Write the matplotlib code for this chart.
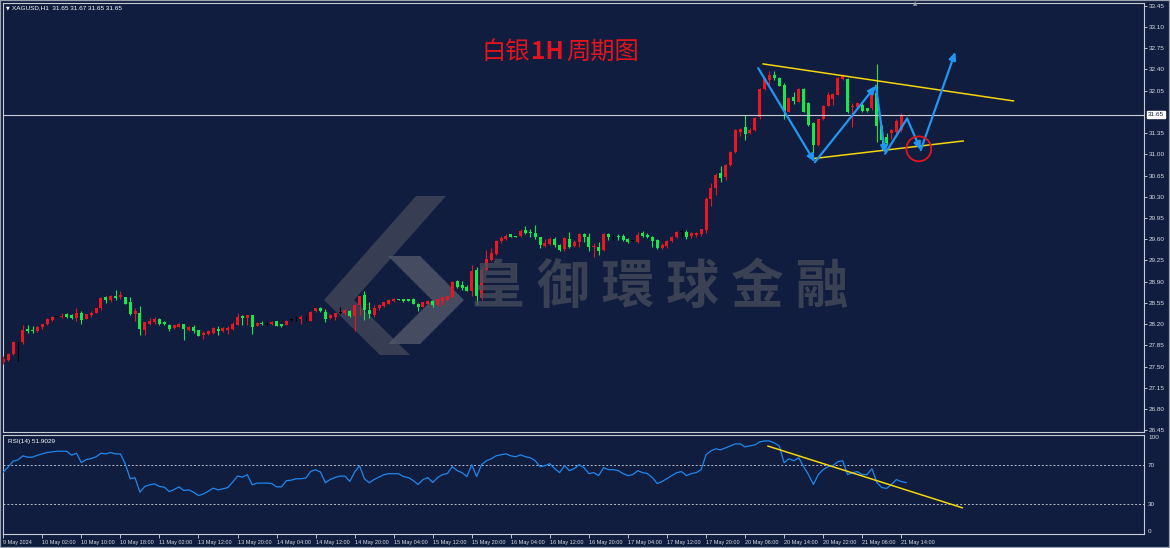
import matplotlib
matplotlib.use('Agg')
import matplotlib.pyplot as plt
import numpy as np
from matplotlib.patches import Ellipse, Polygon, Rectangle
from matplotlib.offsetbox import TextArea, HPacker, AnnotationBbox

# ---------------- data (H1 candles, index 0 = 9 May 2024 18:00) ----------------
opens = [27.57,27.61,27.71,27.90,27.90,28.12,28.11,28.08,28.16,28.21,
         28.27,28.32,28.31,28.36,28.35,28.30,28.38,28.29,28.35,28.38,
         28.46,28.64,28.60,28.67,28.64,28.65,28.57,28.37,28.38,28.10,
         28.21,28.23,28.29,28.24,28.18,28.13,28.16,28.20,28.10,28.16,
         28.10,28.02,28.04,28.06,28.12,28.09,28.10,28.12,28.19,28.34,
         28.30,28.35,28.17,28.22,28.21,28.20,28.25,28.20,28.19,28.27,
         28.28,28.28,28.28,28.26,28.41,28.46,28.40,28.30,28.32,28.39,
         28.38,28.41,28.34,28.51,28.68,28.43,28.35,28.46,28.50,28.54,
         28.59,28.615,28.62,28.61,28.61,28.54,28.49,28.54,28.58,28.52,
         28.58,28.60,28.65,28.91,28.84,28.82,28.75,29.09,28.63,29.09,
         29.26,29.36,29.57,29.60,29.68,29.655,29.66,29.75,29.71,29.71,
         29.63,29.49,29.52,29.60,29.51,29.44,29.60,29.49,29.56,29.69,
         29.64,29.47,29.47,29.42,29.68,29.63,29.66,29.66,29.60,29.57,
         29.555,29.70,29.67,29.64,29.59,29.46,29.49,29.57,29.63,29.72,
         29.72,29.66,29.67,29.68,29.75,30.26,30.44,30.69,30.62,30.82,
         31.04,31.36,31.45,31.35,31.40,31.61,32.08,32.23,32.31,32.25,
         32.15,31.70,31.95,31.87,32.07,31.84,31.51,31.15,31.58,31.80,
         31.92,31.98,32.24,32.24,31.775,31.775,31.81,31.76,31.76,32.01,
         31.47,31.29,31.35,31.36,31.40,31.65]
highs = [27.68,27.73,27.92,27.92,28.19,28.19,28.17,28.17,28.21,28.30,
         28.33,28.34,28.38,28.39,28.36,28.47,28.41,28.37,28.42,28.47,
         28.64,28.66,28.68,28.76,28.75,28.65,28.64,28.47,28.50,28.24,
         28.30,28.31,28.30,28.26,28.20,28.19,28.22,28.21,28.17,28.18,
         28.11,28.08,28.10,28.15,28.17,28.15,28.17,28.23,28.38,28.35,
         28.35,28.35,28.24,28.25,28.25,28.25,28.25,28.20,28.27,28.30,
         28.33,28.35,28.35,28.41,28.47,28.48,28.45,28.36,28.39,28.48,
         28.45,28.43,28.53,28.67,28.74,28.56,28.52,28.53,28.57,28.61,
         28.63,28.62,28.62,28.62,28.63,28.55,28.57,28.60,28.60,28.62,
         28.65,28.67,28.91,28.93,28.91,28.85,29.18,29.15,29.14,29.42,
         29.45,29.58,29.66,29.69,29.69,29.66,29.775,29.81,29.77,29.84,
         29.64,29.61,29.63,29.63,29.52,29.63,29.72,29.59,29.71,29.71,
         29.70,29.54,29.56,29.71,29.71,29.68,29.68,29.68,29.615,29.577,
         29.72,29.74,29.71,29.65,29.60,29.53,29.59,29.65,29.73,29.78,
         29.75,29.72,29.72,29.775,30.29,30.53,30.70,30.80,30.84,31.06,
         31.42,31.44,31.65,31.43,31.62,32.10,32.26,32.38,32.38,32.28,
         32.17,31.95,32.03,32.09,32.09,31.87,31.54,31.59,31.81,32.03,
         32.01,32.28,32.32,32.25,31.84,31.87,31.84,31.77,32.02,32.49,
         31.48,31.35,31.42,31.59,31.68,31.67]
lows = [27.55,27.60,27.69,27.60,27.88,28.05,28.06,28.07,28.12,28.18,
        28.26,28.31,28.30,28.30,28.29,28.26,28.21,28.28,28.31,28.38,
        28.44,28.55,28.57,28.60,28.62,28.54,28.35,28.26,28.02,28.02,
        28.18,28.21,28.19,28.19,28.09,28.12,28.15,27.94,28.08,28.05,
        28.00,27.96,28.02,28.04,28.02,28.07,28.04,28.10,28.18,28.18,
        28.18,28.04,28.17,28.19,28.19,28.19,28.17,28.16,28.18,28.25,
        28.25,28.20,28.26,28.26,28.40,28.40,28.23,28.29,28.27,28.37,
        28.35,28.32,28.09,28.35,28.27,28.30,28.31,28.43,28.48,28.53,
        28.56,28.60,28.57,28.58,28.53,28.42,28.48,28.52,28.49,28.50,
        28.52,28.59,28.64,28.80,28.77,28.74,28.67,28.51,28.60,29.07,
        29.24,29.34,29.54,29.59,29.64,29.64,29.64,29.69,29.64,29.60,
        29.46,29.48,29.51,29.48,29.41,29.41,29.46,29.47,29.48,29.56,
        29.40,29.31,29.34,29.41,29.59,29.59,29.59,29.57,29.53,29.56,
        29.54,29.64,29.615,29.48,29.44,29.445,29.46,29.55,29.615,29.64,
        29.60,29.615,29.63,29.66,29.70,30.14,30.33,30.55,30.58,30.80,
        31.02,31.30,31.24,31.33,31.38,31.58,32.06,32.13,32.23,32.12,
        31.59,31.69,31.83,31.86,31.69,31.47,31.02,31.13,31.57,31.79,
        31.81,31.97,32.23,31.68,31.45,31.76,31.70,31.69,31.73,31.20,
        31.07,31.15,31.26,31.34,31.37,31.65]
closes = [27.63,27.71,27.91,27.90,28.10,28.09,28.09,28.16,28.20,28.28,
          28.32,28.32,28.34,28.32,28.30,28.38,28.27,28.36,28.39,28.46,
          28.63,28.60,28.66,28.63,28.68,28.54,28.36,28.41,28.12,28.23,
          28.26,28.29,28.21,28.21,28.12,28.18,28.21,28.12,28.15,28.08,
          28.01,28.05,28.09,28.13,28.08,28.13,28.14,28.21,28.32,28.30,
          28.35,28.16,28.22,28.20,28.21,28.24,28.17,28.17,28.26,28.27,
          28.28,28.31,28.28,28.40,28.46,28.41,28.29,28.35,28.38,28.39,
          28.43,28.33,28.52,28.66,28.43,28.37,28.47,28.51,28.56,28.60,
          28.62,28.605,28.59,28.59,28.54,28.48,28.56,28.59,28.51,28.61,
          28.64,28.66,28.90,28.81,28.80,28.75,29.08,28.67,29.09,29.28,
          29.37,29.57,29.62,29.66,29.64,29.645,29.74,29.70,29.70,29.63,
          29.51,29.53,29.60,29.50,29.43,29.62,29.47,29.56,29.69,29.63,
          29.48,29.49,29.41,29.69,29.63,29.63,29.63,29.59,29.55,29.57,
          29.67,29.65,29.63,29.57,29.46,29.51,29.57,29.64,29.72,29.72,
          29.64,29.70,29.70,29.77,30.26,30.45,30.66,30.61,30.82,31.04,
          31.40,31.42,31.34,31.40,31.60,32.08,32.25,32.31,32.25,32.13,
          31.71,31.93,31.88,32.07,31.70,31.48,31.15,31.58,31.80,31.98,
          31.99,32.26,32.30,31.70,31.80,31.84,31.71,31.71,32.01,31.46,
          31.24,31.19,31.40,31.55,31.65,31.65]

rsi = [62.6,67.7,73.5,74.8,78.9,77.6,77.6,79.6,80.9,82.3,
       83.0,83.6,83.6,83.6,79.6,81.6,72.1,75.2,76.2,77.9,
       81.6,80.9,82.3,80.9,80.9,70.7,55.8,56.8,42.2,48.0,
       49.7,50.7,48.0,47.3,42.9,44.9,47.6,43.9,44.6,42.2,
       38.8,40.5,43.2,46.3,44.6,45.6,46.9,52.4,58.5,57.5,
       59.9,49.7,51.4,51.4,51.4,51.0,47.6,47.6,53.8,54.4,
       55.8,55.8,56.5,63.3,64.9,62.6,51.7,55.1,57.1,58.5,
       58.5,53.1,62.6,69.0,55.8,51.7,55.1,57.5,59.9,60.9,
       60.9,60.9,58.0,57.0,54.0,50.0,55.0,57.0,52.0,57.0,
       60.0,61.0,68.0,64.0,62.0,58.0,70.0,58.0,70.0,74.0,
       76.0,79.0,80.0,81.0,79.0,78.0,80.0,78.0,77.0,74.0,
       68.0,69.0,71.0,66.0,62.0,69.0,64.0,66.0,70.0,67.0,
       61.0,62.0,59.0,67.0,65.0,65.0,64.0,61.0,59.0,60.0,
       64.0,62.0,61.0,57.0,51.0,53.0,56.0,59.0,62.0,63.0,
       59.0,61.0,62.0,65.0,80.0,84.0,86.0,85.0,87.0,89.0,
       91.0,91.0,88.0,89.0,90.0,93.0,94.0,94.0,92.0,89.0,
       72.0,76.0,74.0,77.0,68.0,60.0,50.0,60.0,65.0,68.0,
       69.0,73.0,74.0,60.0,62.0,63.0,60.0,60.0,66.0,52.0,
       47.0,46.0,50.0,55.0,53.0,51.9]

tick_labels = ["9 May 2024", "10 May 02:00", "10 May 10:00", "10 May 18:00",
               "11 May 02:00", "13 May 12:00", "13 May 20:00", "14 May 04:00",
               "14 May 12:00", "14 May 20:00", "15 May 04:00", "15 May 12:00",
               "15 May 20:00", "16 May 04:00", "16 May 12:00", "16 May 20:00",
               "17 May 04:00", "17 May 12:00", "17 May 20:00", "20 May 06:00",
               "20 May 14:00", "20 May 22:00", "21 May 06:00", "21 May 14:00"]
price_ticks = [26.45, 26.80, 27.15, 27.50, 27.85, 28.20, 28.55, 28.90, 29.25,
               29.60, 29.95, 30.30, 30.65, 31.00, 31.35, 32.05, 32.40, 32.75,
               33.10, 33.45]
last_price = 31.65
rsi_value = 51.9029

# analyst drawings (bar index, price)
zig_x = [154.7, 166.3, 178.8, 180.7, 185.2, 188.0, 195.1]
zig_y = [32.42, 30.87, 32.13, 31.01, 31.59, 31.07, 32.69]
upper_line_x = [155.7, 207.0]
upper_line_y = [32.49, 31.88]
lower_line_x = [166.0, 196.7]
lower_line_y = [30.93, 31.22]
circle_x, circle_y = 187.6, 31.09
rsi_line_x = [156.7, 196.5]
rsi_line_y = [88.8, 26.5]

# ---------------- style ----------------
BG = '#101d3e'
UP = '#ea1620'
DOWN = '#17e84e'
TXT = '#d8dbe2'
W, H = 1170, 548
fig = plt.figure(figsize=(W / 100, H / 100), dpi=100, facecolor=BG)

def fpos(x0, y0, x1, y1):
    return [x0 / W, 1 - y1 / H, (x1 - x0) / W, (y1 - y0) / H]

axp = fig.add_axes(fpos(3, 3, 1144, 432))
axr = fig.add_axes(fpos(3, 435, 1144, 534), sharex=axp)
for ax in (axp, axr):
    ax.set_facecolor(BG)
    for s in ax.spines.values():
        s.set_color('#c9ccd4')
        s.set_linewidth(0.8)

n = len(opens)
x = np.arange(n)
o = np.array(opens); h = np.array(highs); l = np.array(lows); c = np.array(closes)
cols = np.where(c > o, UP, np.where(c < o, DOWN, '#000000'))
axp.vlines(x, l, h, colors=cols, linewidth=0.8, zorder=3)
body_b = np.minimum(o, c)
body_h = np.maximum(np.abs(c - o), 0.012)
axp.bar(x, body_h, bottom=body_b, width=0.62, color=cols, linewidth=0, zorder=4)

axp.set_xlim(-0.06, 233.75)
axp.set_ylim(26.4222, 33.4945)
axp.yaxis.tick_right()
axp.set_yticks(price_ticks)
axp.set_yticklabels([f"{v:.2f}" for v in price_ticks])
axp.tick_params(axis='y', colors=TXT, labelsize=4.6, length=2, width=0.6, pad=1.5)
axp.tick_params(axis='x', bottom=False, labelbottom=False)
for lab in axp.get_yticklabels():
    lab.set_family('Liberation Sans')

# current price line and label
axp.axhline(last_price, color='#c8ccd4', linewidth=0.8, zorder=5)
axp.annotate(f"{last_price:.2f}", xy=(1.0, last_price), xycoords=('axes fraction', 'data'),
             xytext=(3, 0), textcoords='offset points', ha='left', va='center',
             fontsize=4.6, family='Liberation Sans', color='#101d3e',
             bbox=dict(boxstyle='square,pad=0.15', fc='white', ec='white'),
             annotation_clip=False, zorder=6)

# trend lines and zig-zag arrows
axp.plot(upper_line_x, upper_line_y, color='#f5d50c', linewidth=1.1, zorder=6)
axp.plot(lower_line_x, lower_line_y, color='#f5d50c', linewidth=1.1, zorder=6)
heads = [True, True, True, False, True, True]
for i in range(len(zig_x) - 1):
    style = '-|>,head_length=0.45,head_width=0.2' if heads[i] else '-'
    axp.annotate('', xy=(zig_x[i + 1], zig_y[i + 1]), xytext=(zig_x[i], zig_y[i]),
                 arrowprops=dict(arrowstyle=style, color='#2196f3', linewidth=1.6,
                                 shrinkA=0, shrinkB=0), zorder=7)
axp.add_patch(Ellipse((circle_x, circle_y), width=5.1, height=0.41, fill=False,
                      edgecolor='#e8141c', linewidth=1.3, zorder=8))

# watermark logo (two chevrons) + text
logo_dark = [
    [(416, 196), (446, 196), (354, 300), (324, 300)],
    [(324, 300), (354, 300), (410, 355), (380, 355)],
]
logo_light = [
    [(388, 256), (420, 256), (464, 300), (432, 300)],
    [(432, 300), (464, 300), (420, 344), (388, 344)],
]
for polys, colr in ((logo_dark, '#3e4459'), (logo_light, '#4f5568')):
    for poly in polys:
        pts = [(px / W, 1 - py / H) for px, py in poly]
        axp.add_patch(Polygon(pts, closed=True, transform=fig.transFigure,
                              facecolor=colr, edgecolor='none', alpha=0.85, zorder=1))
fig.text(660 / W, 1 - 287 / H, "皇 御 環 球 金 融", fontsize=38, color='#4a4e5d', alpha=0.75,
         weight='bold', family=['Noto Sans CJK TC', 'DejaVu Sans'], ha='center', va='center',
         zorder=1)

# title (mixed weight)
tparts = [TextArea("白银", textprops=dict(color='#e3141c', fontsize=17.5, family='Noto Sans CJK SC')),
          TextArea("1H", textprops=dict(color='#e3141c', fontsize=17.5, family='Noto Sans CJK SC', weight='bold')),
          TextArea("周期图", textprops=dict(color='#e3141c', fontsize=17.5, family='Noto Sans CJK SC'))]
pack = HPacker(children=tparts, pad=0, sep=1, align='baseline')
ab = AnnotationBbox(pack, (560 / W, 1 - 52 / H), xycoords='figure fraction', frameon=False,
                    box_alignment=(0.5, 0.5), zorder=9)
fig.add_artist(ab)

# header texts
fig.text(6 / W, 1 - 7.5 / H, "▼", fontsize=3.5, color='white', va='center', family='DejaVu Sans')
fig.text(12 / W, 1 - 7.5 / H, "XAGUSD,H1  31.65 31.67 31.65 31.65", fontsize=4.6,
         color='white', va='center', family='Liberation Sans')
fig.text(915 / W, 1 - 3.5 / H, "▲", fontsize=4, color='#9aa0ae', ha='center', va='center')

# ---------------- RSI panel ----------------
axr.plot(x, rsi, color='#1e88f0', linewidth=0.9, zorder=3)
axr.axhline(70, color='#b8bcc6', linewidth=0.7, linestyle=(0, (2, 2)))
axr.axhline(30, color='#b8bcc6', linewidth=0.7, linestyle=(0, (2, 2)))
axr.plot(rsi_line_x, rsi_line_y, color='#f5d50c', linewidth=1.1, zorder=4)
axr.set_ylim(0, 100)
axr.yaxis.tick_right()
axr.set_yticks([0, 30, 70, 100])
axr.set_yticklabels(['0', '30', '70', '100'])
axr.tick_params(axis='y', colors=TXT, labelsize=4.6, length=0, pad=3)
for lab in axr.get_yticklabels():
    lab.set_family('Liberation Sans')
    if lab.get_text() == '100':
        lab.set_va('top')
    elif lab.get_text() == '0':
        lab.set_va('bottom')
axr.text(0.004, 0.96, f"RSI(14) {rsi_value:.4f}", transform=axr.transAxes, fontsize=4.6,
         color='white', va='top', ha='left', family='Liberation Sans')

tick_pos = np.arange(len(tick_labels)) * 8
axr.set_xticks(tick_pos)
axr.set_xticklabels(tick_labels)
axr.tick_params(axis='x', colors=TXT, labelsize=4.0, length=3, width=0.6, pad=1.5, direction='out')
for lab in axr.get_xticklabels():
    lab.set_ha('left')
    lab.set_family('Liberation Sans')

# outer frame of the window
fig.add_artist(Rectangle((0, 0), 1, 1, transform=fig.transFigure, fill=False,
                         edgecolor='#9aa0ae', linewidth=1.6))

fig.savefig('out.png', dpi=100, facecolor=BG)
